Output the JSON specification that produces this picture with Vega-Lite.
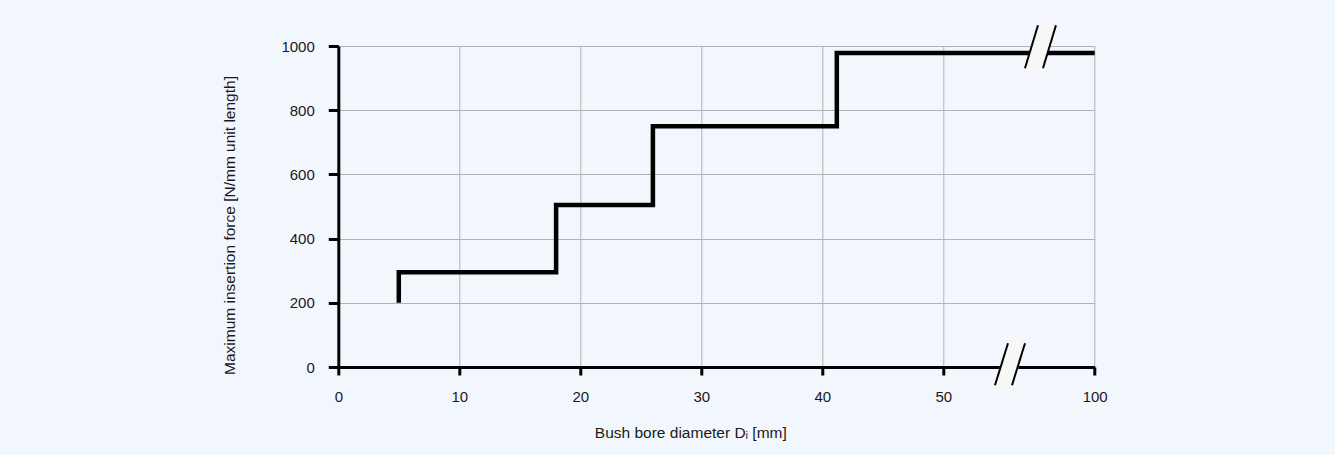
{
  "$schema": "https://vega.github.io/schema/vega-lite/v6.json",
  "width": 756.4,
  "height": 321,
  "autosize": {"type": "none"},
  "padding": {"left": 338.3, "top": 46, "right": 240.3, "bottom": 88},
  "background": "#f2f6fd",
  "config": {
    "view": {"stroke": null},
    "font": "Liberation Sans",
    "axis": {
      "domainColor": "black",
      "domainWidth": 3,
      "tickColor": "black",
      "tickWidth": 3,
      "labelFontSize": 15,
      "labelColor": "#1a1a1a",
      "labelFlush": false,
      "gridColor": "#b3b3b3",
      "gridWidth": 1,
      "titleFontSize": 15.5,
      "titleFontWeight": "normal",
      "titleColor": "#1a1a1a"
    }
  },
  "datasets": {
    "curve": [
      {"i": 1, "d": 5, "f": 200},
      {"i": 2, "d": 5, "f": 295},
      {"i": 3, "d": 18, "f": 295},
      {"i": 4, "d": 18, "f": 505},
      {"i": 5, "d": 26, "f": 505},
      {"i": 6, "d": 26, "f": 750},
      {"i": 7, "d": 41.2, "f": 750},
      {"i": 8, "d": 41.2, "f": 978},
      {"i": 9, "d": 100, "f": 978}
    ],
    "bands": [
      {"d": 79.26, "f": 909, "d2": 84.74, "f2": 1080},
      {"d": 69.19, "f": -78.8, "d2": 74.77, "f2": 92.6}
    ],
    "slashes": [
      {"d": 76.98, "f": 930.8, "d2": 81.27, "f2": 1064.8},
      {"d": 82.92, "f": 930.8, "d2": 87.21, "f2": 1064.8},
      {"d": 67.07, "f": -57, "d2": 71.37, "f2": 73.9},
      {"d": 72.69, "f": -57, "d2": 76.98, "f2": 73.9}
    ]
  },
  "encoding": {
    "x": {
      "field": "d",
      "type": "quantitative",
      "scale": {"domain": [0, 50, 100], "range": [0, 605, 756.4], "nice": false, "zero": false},
      "axis": {
        "values": [0, 10, 20, 30, 40, 50, 100],
        "format": "d",
        "tickSize": 8,
        "labelPadding": 14,
        "title": "Bush bore diameter Dᵢ [mm]",
        "titleX": 352,
        "titleY": 70,
        "titleAlign": "center",
        "titleBaseline": "alphabetic",
        "labelOverlap": false
      }
    },
    "y": {
      "field": "f",
      "type": "quantitative",
      "scale": {"domain": [0, 1000], "nice": false},
      "axis": {
        "values": [0, 200, 400, 600, 800, 1000],
        "format": "d",
        "tickSize": 10,
        "labelPadding": 14,
        "title": "Maximum insertion force [N/mm unit length]",
        "titleAngle": -90,
        "titleX": -104,
        "titleY": 179,
        "titleAlign": "center",
        "titleBaseline": "alphabetic"
      }
    }
  },
  "layer": [
    {
      "data": {"name": "curve"},
      "mark": {"type": "line", "color": "black", "strokeWidth": 4.5, "strokeJoin": "miter", "strokeCap": "butt"},
      "encoding": {"order": {"field": "i", "type": "quantitative"}}
    },
    {
      "data": {"name": "bands"},
      "mark": {"type": "rule", "color": "#f7f7f7", "strokeWidth": 18, "strokeCap": "butt"},
      "encoding": {"x2": {"field": "d2"}, "y2": {"field": "f2"}}
    },
    {
      "data": {"name": "slashes"},
      "mark": {"type": "rule", "color": "black", "strokeWidth": 2, "strokeCap": "butt"},
      "encoding": {"x2": {"field": "d2"}, "y2": {"field": "f2"}}
    }
  ]
}
